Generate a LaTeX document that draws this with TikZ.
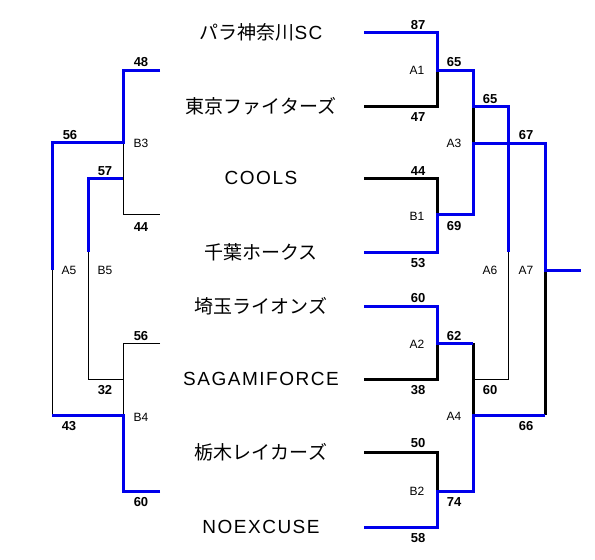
\documentclass[tikz,border=0pt]{standalone}
\usepackage{fontspec}
\setmainfont{Liberation Sans}
\newfontfamily\teamfont[LetterSpace=8]{Liberation Sans}
\newfontfamily\jpfont{Noto Sans CJK JP}
\definecolor{winblue}{RGB}{0,0,235}
\tikzset{
  winline/.style={winblue, line width=3pt},
  loseline/.style={black, line width=3pt},
  openline/.style={black, line width=0.8pt},
  team/.style={font=\teamfont\fontsize{19}{19}\selectfont, inner sep=0pt},
  score/.style={font=\bfseries\fontsize{13}{13}\selectfont, inner sep=0pt},
  game/.style={font=\fontsize{12}{12}\selectfont, inner sep=0pt}
}

\begin{document}
\begin{tikzpicture}[x=1pt,y=-1pt]
  \useasboundingbox (0,0) rectangle (595,560);
  % Team names
  \node[team] (t1) at (261,32) {{\jpfont パラ神奈川}SC};
  \node[team] (t2) at (261,106) {\jpfont 東京ファイターズ};
  \node[team] (t3) at (261,178) {COOLS};
  \node[team] (t4) at (261,252) {\jpfont 千葉ホークス};
  \node[team] (t5) at (261,306) {\jpfont 埼玉ライオンズ};
  \node[team] (t6) at (261,379) {SAGAMIFORCE};
  \node[team] (t7) at (261,452) {\jpfont 栃木レイカーズ};
  \node[team] (t8) at (261,527) {NOEXCUSE};
  % Slots of the right bracket
  \foreach \y [count=\i] in {32,106,178,252,306,379,452,527}
    \coordinate (r\i) at (364,\y);
  % Junctions of the right bracket
  \coordinate (a1) at (437,70);
  \coordinate (b1) at (437,214);
  \coordinate (a2) at (437,343);
  \coordinate (b2) at (437,491);
  \coordinate (a3t) at (473,70);
  \coordinate (a3a) at (473,106);
  \coordinate (a3b) at (473,143);
  \coordinate (a3d) at (473,214);
  \coordinate (a4t) at (473,343);
  \coordinate (a4m) at (473,415);
  \coordinate (a4b) at (473,491);
  \coordinate (a6a) at (508,106);
  \coordinate (a6m) at (508,252);
  \coordinate (a6b) at (473,379);
  \coordinate (a7a) at (545,143);
  \coordinate (a7m) at (545,270);
  \coordinate (a7b) at (545,415);
  \coordinate (fin) at (581,270);
  % Right bracket
  \draw[loseline] (r2) -| (a1);
  \draw[loseline] (r3) -| (b1);
  \draw[loseline] (r6) -| (a2);
  \draw[loseline] (r7) -| (b2);
  \draw[loseline] (a3a) -- (a3b);
  \draw[loseline] (a4t) -- (a4m);
  \draw[loseline] (a7m) -- (a7b);
  \draw[openline] (a6m) |- (a6b);
  \draw[winline] (r1) -| (a1) -- (a3t) |- (a6a) -- (a6m);
  \draw[winline] (r4) -| (b1) -- (a3d) |- (a7a) -- (a7m) -- (fin);
  \draw[winline] (r5) -| (a2) -- (a4t);
  \draw[winline] (r8) -| (b2) -- (a4b) |- (a7b);
  % Slots and junctions of the left bracket
  \coordinate (l1) at (160,70);
  \coordinate (l2) at (160,214);
  \coordinate (l3) at (160,343);
  \coordinate (l4) at (160,491);
  \coordinate (b3) at (123,142);
  \coordinate (b3b) at (123,178);
  \coordinate (b4) at (123,415);
  \coordinate (b5t) at (88,178);
  \coordinate (b5m) at (88,252);
  \coordinate (b5b) at (123,379);
  \coordinate (a5t) at (52,142);
  \coordinate (a5m) at (52,270);
  \coordinate (a5b) at (52,415);
  % Left bracket
  \draw[openline] (b3) |- (l2);
  \draw[openline] (l3) -| (b4);
  \draw[openline] (b5m) |- (b5b);
  \draw[openline] (a5m) -- (a5b);
  \draw[winline] (l1) -| (b3) -- (a5t) -- (a5m);
  \draw[winline] (b3b) -- (b5t) -- (b5m);
  \draw[winline] (l4) -| (b4) -- (a5b);
  % Scores
  \foreach \x/\y/\s [count=\i] in {141/62/48, 70/135/56, 105/171/57, 141/227/44,
      141/336/56, 105/390/32, 69/426/43, 141/502/60,
      418/25/87, 454/62/65, 418/117/47, 490/99/65, 526/135/67, 418/171/44,
      454/226/69, 418/263/53, 418/298/60, 454/336/62, 418/390/38, 490/390/60,
      526/426/66, 418/443/50, 454/502/74, 418/538/58}
    \node[score] (s\i) at (\x,\y) {\s};
  % Game labels
  \foreach \x/\y/\g in {141/143/B3, 69/270/A5, 105/270/B5, 141/417/B4,
      417/70/A1, 454/143/A3, 417/216/B1, 490/270/A6, 526/270/A7,
      417/344/A2, 454/416/A4, 417/491/B2}
    \node[game] (\g) at (\x,\y) {\g};
\end{tikzpicture}
\end{document}
